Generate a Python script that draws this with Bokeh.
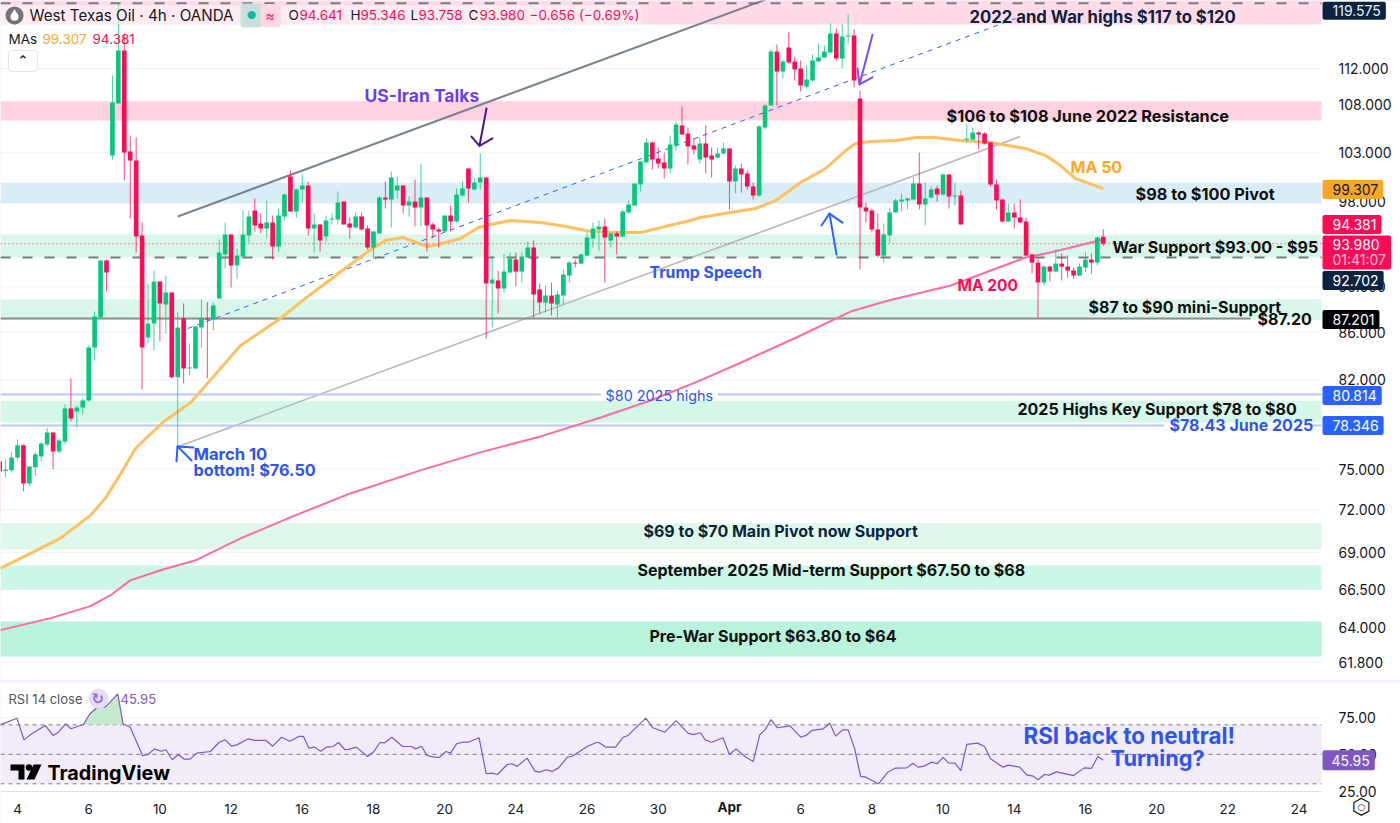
from bokeh.embed import file_html
from bokeh.resources import INLINE
from bokeh.plotting import figure
from bokeh.layouts import column
from bokeh.models import (Label, Range1d, FixedTicker, NumeralTickFormatter, BoxAnnotation)

# ---------- candles (4h bars, first bar index = -3) ----------
open_ = [75.58,74.86,74.90,75.88,76.80,73.93,75.13,75.95,76.87,77.80,
 76.33,77.10,79.69,79.45,79.77,80.33,84.70,87.29,92.41,102.65,
 108.15,114.04,103.07,102.14,94.75,85.55,86.77,90.49,88.43,89.50,
 82.21,87.20,82.94,82.94,86.42,87.20,87.12,88.97,92.97,94.85,
 91.95,92.78,94.75,97.15,95.90,95.42,96.00,93.72,96.57,100.52,
 97.05,99.22,99.62,95.42,95.81,94.66,96.29,96.29,98.03,95.90,
 95.52,96.57,95.42,93.62,94.95,98.42,98.23,99.12,99.62,97.64,
 98.03,97.44,98.42,95.81,95.33,95.14,96.67,96.10,98.62,101.33,
 99.22,99.92,100.42,90.31,90.58,89.86,91.31,92.50,91.40,92.69,
 93.62,89.77,88.61,89.23,88.43,89.23,91.03,92.22,92.13,92.87,
 94.47,95.33,95.62,94.28,94.95,94.66,96.96,97.64,99.72,101.94,
 104.00,102.35,101.94,101.33,103.69,105.79,104.95,103.69,102.24,103.90,
 102.65,102.45,102.86,103.38,100.02,101.33,100.83,99.52,98.62,105.58,
 107.93,113.93,111.67,114.38,112.79,112.00,110.00,110.66,112.79,113.24,
 113.81,116.00,113.12,115.65,115.77,108.69,97.44,97.15,95.33,92.87,
 94.75,96.96,98.03,98.13,98.23,99.82,97.74,98.42,99.32,98.72,
 100.72,98.52,98.62,104.31,104.31,105.05,104.95,104.00,99.72,98.23,
 96.10,96.96,96.48,96.10,92.97,92.22,90.40,91.85,91.40,92.13,
 91.85,91.49,91.03,91.76,92.50,92.22,94.641]
high = [75.58,75.73,76.26,77.26,76.87,75.20,76.26,77.03,78.12,77.80,
 77.34,80.01,82.12,79.93,80.49,84.87,87.81,92.50,92.50,111.22,
 119.53,116.00,104.73,104.52,96.00,90.31,91.49,90.49,91.03,89.50,
 87.73,88.52,85.05,86.51,88.88,88.61,88.61,94.37,96.00,94.85,
 93.53,97.15,97.15,98.33,96.86,98.13,96.67,97.35,98.82,101.13,
 99.32,100.72,100.02,96.86,95.81,96.67,96.86,99.02,98.03,96.48,
 96.96,96.96,95.71,95.14,98.62,100.02,101.03,100.52,99.62,98.52,
 100.22,101.84,98.42,96.00,95.52,96.67,97.64,99.32,100.02,101.33,
 100.42,102.86,100.42,92.87,91.49,93.06,93.15,93.15,93.15,94.19,
 94.28,90.31,90.13,90.40,89.68,91.58,92.41,92.50,93.06,95.04,
 96.00,96.19,96.38,95.04,95.14,97.25,98.13,99.82,102.04,104.42,
 104.11,103.48,102.96,104.73,106.21,107.82,105.58,104.42,104.52,105.79,
 103.48,103.48,104.00,103.38,101.63,101.84,101.13,99.92,105.79,108.04,
 114.15,114.73,113.01,116.12,113.35,112.90,112.34,113.58,114.85,114.62,
 117.17,116.58,117.05,118.23,116.47,109.56,97.93,97.35,96.86,95.90,
 97.35,98.33,98.82,98.42,100.42,102.96,99.92,99.52,99.62,100.83,
 100.72,99.92,99.12,106.00,105.58,105.16,105.05,104.11,100.22,98.23,
 97.84,97.84,98.23,96.48,93.06,92.59,91.95,91.95,93.43,93.06,
 92.87,91.76,92.13,93.15,93.06,94.66,95.346]
low = [71.74,74.38,74.75,75.65,73.34,73.71,74.45,75.58,76.72,74.98,
 76.18,76.87,78.66,78.19,79.21,80.25,83.61,87.29,89.59,102.24,
 108.15,100.12,96.38,93.15,81.22,85.05,84.45,85.21,85.90,82.12,
 76.72,81.71,82.37,82.90,84.70,82.12,86.16,88.97,91.67,89.95,
 90.76,92.78,94.09,95.14,94.95,94.47,92.50,93.25,96.19,97.05,
 96.48,97.93,94.75,93.15,93.25,94.19,95.81,95.81,95.81,94.47,
 95.42,95.23,93.43,92.59,94.95,97.35,95.52,98.33,96.86,96.57,
 95.62,95.62,93.25,94.47,93.62,95.04,95.14,96.00,98.52,97.93,
 99.12,99.22,85.47,86.42,87.64,89.50,91.31,90.04,90.40,92.69,
 87.29,87.64,87.73,87.47,87.29,88.43,90.40,91.76,92.04,92.87,
 93.62,93.34,90.40,93.62,92.97,94.57,96.86,97.64,99.02,101.94,
 101.23,101.33,100.32,100.83,103.17,104.84,101.74,102.76,101.84,100.83,
 100.42,102.35,102.76,97.25,98.82,98.92,99.22,98.23,98.52,105.37,
 107.93,107.93,110.88,112.57,110.66,109.45,109.78,110.55,112.79,113.24,
 113.81,112.90,112.00,114.85,109.89,91.58,96.00,95.04,92.69,92.22,
 94.09,96.96,97.05,97.25,98.23,97.25,95.71,98.33,98.03,98.62,
 97.35,97.64,95.81,104.00,104.21,103.27,103.79,99.52,97.25,96.00,
 96.00,95.42,96.00,92.87,91.22,87.20,90.13,90.49,91.31,90.58,
 90.85,90.76,91.03,91.40,91.22,91.95,93.758]
close = [74.83,74.94,75.88,76.80,73.93,75.20,76.11,76.95,77.80,76.33,
 77.18,79.69,78.90,79.77,80.33,84.70,87.38,92.41,91.31,108.25,
 114.04,102.96,102.14,94.66,84.70,86.77,90.49,88.52,89.50,82.21,
 86.42,82.94,83.03,86.51,87.20,87.12,88.34,93.15,94.85,91.95,
 92.87,94.85,96.57,95.71,95.42,96.00,93.72,96.67,98.72,97.05,
 99.22,99.62,95.42,95.81,94.28,96.19,96.38,97.93,95.81,95.52,
 96.57,95.33,93.62,95.14,98.42,98.23,100.42,99.62,97.64,98.03,
 97.44,98.42,95.71,95.33,95.14,96.67,96.10,98.72,99.32,99.32,
 99.92,100.42,90.31,90.67,89.86,91.40,92.59,91.40,92.78,93.62,
 89.32,88.61,89.23,88.52,89.32,91.13,92.22,92.13,92.97,94.57,
 95.42,95.62,94.57,94.95,94.66,97.05,97.74,99.82,102.04,104.00,
 102.24,101.84,101.33,103.79,105.90,104.84,103.58,103.27,103.90,102.45,
 102.24,102.86,103.38,100.02,101.33,100.72,99.52,98.62,105.69,107.93,
 113.93,111.67,112.79,112.68,111.89,110.11,110.77,112.90,113.24,113.93,
 116.00,113.12,115.65,115.77,110.66,97.44,97.05,95.33,92.87,94.85,
 96.96,98.13,98.23,98.33,99.82,97.74,98.33,99.22,98.72,100.72,
 98.52,98.62,95.81,104.42,105.05,104.84,103.90,99.72,98.13,96.10,
 96.96,96.48,96.00,92.87,92.22,90.40,91.85,91.40,92.13,91.85,
 91.49,91.03,91.85,92.50,92.22,94.57,93.98]
first_bar = -3

# ---------- moving averages, read at selected bars ----------
ma50_bar = [-2.9,2.2,7.2,12.3,14.8,16.9,19.9,21.6,24.9,29.2,37.6,44.3,48.5,56.1,59.8,62.0,64.9,67.6,69.3,72.1,
 74.7,77.7,79.7,83.1,88.2,92.4,96.6,101.6,105,109.2,113.4,115.1,120.2,124.4,127.8,132,136.2,139.6,141.2,143.8,
 148,151.4,154.7,158.9,164,169.9,173.3,175.8,178.3,183]
ma50_val = [67.90,68.93,69.97,71.60,72.83,74.30,76.56,77.33,78.74,80.17,84.87,87.20,88.97,92.04,93.53,94.28,94.57,94.00,93.72,94.09,
 94.47,95.52,95.81,96.19,96.00,95.62,95.14,95.04,95.04,95.62,96.19,96.48,96.96,97.35,98.13,99.92,101.33,103.17,103.90,104.11,
 104.21,104.52,104.52,104.21,104.00,103.38,102.65,101.63,100.32,99.307]
ma200_bar = [-2.9,5.6,12.3,15.7,19.0,24.1,30,37.6,46,56.1,67.9,78,88.2,98.3,106.7,115.1,123.5,132,140.4,146.8,157.3,169.9,174.1,183]
ma200_val = [63.83,64.60,65.38,66.10,67.09,67.77,68.45,69.97,71.46,73.19,74.90,76.26,77.49,78.97,80.33,81.96,83.78,85.73,87.81,88.79,90.13,92.69,93.15,94.381]

# ---------- RSI ----------
rsi_bar = [-2.9,-0.1,1.1,2.4,4.7,6.0,6.9,8.1,9.0,11.1,12.2,13.8,14.8,16.9,17.8,19.0,21.1,22.0,23.1,24.2,25.0,26.1,27.1,28.1,29.1,30.2,
 32.5,34.0,35.0,36.1,37.0,38.9,40.0,41.9,43.0,44.5,45.9,47.4,48.2,49.1,50.0,51.1,52.1,53.2,54.1,55.2,55.8,57.1,59.0,60.0,61.1,61.9,
 63.1,64.9,66.4,67.1,68.1,69.0,70.3,71.1,72.2,73.0,74.0,75.0,76.0,77.8,79.0,79.9,80.9,82.5,83.3,84.2,85.9,87.2,88.0,89.1,90.1,91.2,
 92.7,93.4,94.6,96.1,97.6,98.0,99.1,100.8,102.1,102.9,105.9,107.1,109.1,111.0,113.0,113.9,115.1,115.9,117.0,118.9,120.0,121.1,122.6,
 124.0,125.1,126.0,127.0,128.1,130.2,132.0,132.9,133.9,135.8,136.9,137.9,139.1,140.0,141.1,142.1,143.0,145.1,146.7,147.9,149.9,150.9,
 151.8,152.8,154.1,155.0,156.0,156.9,158.0,159.0,160.0,161.8,163.0,164.0,166.1,167.0,168.9,170.1,171.2,172.0,173.1,173.9,175.1,178.0,
 179.8,181.0,182.1,183.0]
rsi_val = [70.0,74.5,59.8,63.9,69.5,62.8,65.0,70.7,67.3,70.2,77.5,83.1,82.0,91.0,70.7,68.4,49.0,49.9,53.7,52.1,53.1,46.3,49.9,46.7,46.7,50.8,
 51.9,58.2,59.8,55.5,56.4,60.5,59.4,59.4,55.5,61.6,58.9,62.1,62.1,54.2,54.9,52.1,54.9,55.3,58.0,53.1,53.3,54.9,48.5,51.5,58.0,57.8,
 61.6,55.3,55.3,53.7,55.5,49.2,48.1,47.9,51.9,50.8,57.1,58.2,58.2,61.2,36.8,37.2,36.3,42.9,43.6,41.8,47.4,38.6,37.9,39.5,38.4,40.8,
 48.1,48.5,51.5,55.5,58.0,58.0,54.9,54.9,61.6,62.8,74.5,68.0,65.0,72.9,64.4,63.4,64.6,59.8,58.2,61.2,49.9,53.7,48.5,
 45.1,63.2,66.6,73.6,68.0,69.3,61.6,62.8,66.2,67.3,71.1,62.3,66.6,66.6,53.7,35.0,34.5,30.0,37.9,40.6,40.8,44.0,
 41.3,42.0,44.7,43.6,47.9,44.2,44.0,39.0,56.7,57.6,55.3,47.0,41.3,42.7,41.3,36.1,35.2,32.7,36.3,35.9,38.1,35.6,
 40.8,40.4,48.5,45.95]
rsi_over_bar = [11.1,12.2,13.8,14.8,16.9,17.8]
rsi_over_val = [70.2,77.5,83.1,82.0,91.0,70.7]

# ---------- zones, levels, axis labels ----------
zone_low  = [117.04,106.32,97.85,92.70,87.10,78.57,69.20,66.47,62.17]
zone_high = [119.89,108.40,99.90,94.85,88.87,80.30,71.03,68.10,64.39]
zone_fill = ['#ffdbe8','#ffd1e1','#d8edf5','#d8f6ea','#d8f6ea','#d4f7e8','#dff8ec','#ccf6e6','#b9f3dc']
price_ticks = [61.8,64,66.5,69,72,75,82,86,90,98,103,108,112]
grid_levels = [61.8,64,66.5,69,72,75,78,82,86,90,98,103,108,112]
rsi_ticks = [25,50,75]
date_bars = [0,12,24,36,48,60,72,84,96,108,132,144,156,168,180,192,204,216]
date_text = ['4','6','10','12','16','18','20','24','26','30','6','8','10','14','16','20','22','24']
level_top, level_ma_low, level_last, level_support, level_80, level_78 = 119.575, 92.702, 93.98, 87.201, 80.814, 78.346

INK = '#131722'; NAVY = '#0c2340'; BLUE = '#2f55ee'; PINK = '#ff0a54'; ORANGE = '#ffa726'
GREEN = '#06c77c'; RED = '#ff0a54'; FONT = 'Inter'
W = 1400
x_lo, x_edge, x_hi = -2.865, 219.8, 233.1
y_lo, y_hi = 60.69, 119.89

p = figure(width=W, height=680, output_backend='svg', toolbar_location=None, y_axis_type='log',
           x_range=Range1d(x_lo, x_hi), y_range=Range1d(y_lo, y_hi), y_axis_location='right',
           min_border_left=0, min_border_top=0, min_border_bottom=0, min_border_right=0)
p.outline_line_color = None
p.background_fill_color = 'white'
p.xaxis.visible = False
p.xgrid.visible = False
p.ygrid.visible = False
ax = p.yaxis[0]
ax.fixed_location = x_edge
ax.ticker = FixedTicker(ticks=price_ticks)
ax.formatter = NumeralTickFormatter(format='0.000')
ax.axis_line_color = None; ax.major_tick_line_color = None; ax.minor_tick_line_color = None
ax.major_label_text_font = FONT; ax.major_label_text_font_size = '14px'; ax.major_label_text_color = INK
ax.major_label_standoff = 11

p.segment(x_lo, grid_levels, x_edge, grid_levels, line_color='#f0f3fa', line_width=1)
p.quad(left=x_lo, right=x_edge, bottom=zone_low, top=zone_high, fill_color=zone_fill, line_color=None)

def hline(price, color, width, dash='solid', x0=x_lo, x1=x_edge):
    p.line([x0, x1], [price, price], line_color=color, line_width=width, line_dash=dash)

# channel lines
p.line([27.0, 126.1], [96.57, 120.0], line_color='#76848f', line_width=2)
p.line([27.1, 169.0], [76.72, 104.63], line_color='#b4b8c2', line_width=1.6)
p.line([28.7, 168.2], [86.33, 117.75], line_color='#2962ff', line_width=1, line_dash=[5, 5])

hline(level_top, '#787b86', 2, [10, 12])
hline(level_ma_low, '#787b86', 2, [10, 12])
hline(level_last, PINK, 1, [1, 3])
hline(level_support, '#8e8e8e', 2, 'solid', x_lo, 207.8)
hline(level_80, '#b8c8f8', 2, 'solid', x_lo, 98.3)
hline(level_80, '#b8c8f8', 2, 'solid', 118.0, x_edge)
hline(level_78, '#b8c8f8', 2, 'solid', x_lo, 193.3)
hline(level_78, '#b8c8f8', 2, 'solid', 218.0, x_edge)

p.line(ma200_bar, ma200_val, line_color='#ff6b9a', line_width=2)
p.line(ma50_bar, ma50_val, line_color='#ffc061', line_width=3)

bars = [first_bar + k for k in range(len(open_))]
col = [GREEN if c >= o else RED for o, c in zip(open_, close)]
p.segment(bars, high, bars, low, line_color=col, line_width=1, line_alpha=0.75)
p.vbar(x=bars, width=0.78, top=[max(o, c) for o, c in zip(open_, close)],
       bottom=[min(o, c) for o, c in zip(open_, close)], fill_color=col, line_color=None)

# hand-drawn arrows
def arrow(xs, ys, color):
    p.line(xs, ys, line_color=color, line_width=2, line_cap='round', line_join='round')
i2 = lambda px: (px - 17) / 5.933
arrow([i2(486), i2(479)], [107.60, 103.66], '#4a148c')
arrow([i2(471), i2(479), i2(492)], [104.62, 103.66, 104.42], '#4a148c')
arrow([i2(872), i2(859)], [115.86, 110.22], '#7c4dff')
arrow([i2(857), i2(859), i2(872)], [112.00, 110.22, 111.01], '#7c4dff')
arrow([i2(836), i2(829)], [92.96, 96.86], '#2962ff')
arrow([i2(821), i2(829), i2(842)], [95.71, 96.86, 95.99], '#2962ff')
arrow([i2(191), i2(177)], [75.65, 76.72], '#2962ff')
arrow([i2(176), i2(177), i2(193)], [75.58, 76.72, 76.64], '#2962ff')

p.add_layout(BoxAnnotation(left=0, right=640, left_units='screen', right_units='screen',
                           top=119.3, bottom=117.05, fill_color='white', fill_alpha=0.45, line_color=None))

def lab(fig, text, px, val, color=INK, size=15, bold=False, **kw):
    style = 'bold' if bold else 'normal'
    font = kw.pop('font', FONT)
    fig.add_layout(Label(x=px, y=val, x_units='screen', y_units='data', text=text, text_color=color,
                         text_font=font, text_font_size=f'{size}px', text_font_style=style,
                         text_baseline='middle', text_align='left', **kw))

# chart notes
S = 16
lab(p, '2022 and War highs $117 to $120', 969, 117.87, NAVY, 16.7, True)
lab(p, '$106 to $108 June 2022 Resistance', 946, 106.85, '#111', 16.3, True)
lab(p, '$98 to $100 Pivot', 1135, 98.82, '#111', 16.3, True)
lab(p, 'War Support $93.00 - $95', 1112, 93.71, '#111', S, True)
lab(p, '$87 to $90 mini-Support', 1088, 88.25, '#111', S, True)
lab(p, '$87.20', 1257, 87.12, '#111', S, True)
lab(p, '2025 Highs Key Support $78 to $80', 1017, 79.61, '#111', S, True)
lab(p, '$78.43 June 2025', 1169, 78.35, BLUE, S, True)
lab(p, '$80 2025 highs', 605, 80.73, BLUE, 14.4, False)
lab(p, '$69 to $70 Main Pivot now Support', 643, 70.47, NAVY, S, True)
lab(p, 'September 2025 Mid-term Support $67.50 to $68', 637, 67.77, '#111', S, True)
lab(p, 'Pre-War Support $63.80 to $64', 649, 63.45, '#111', S, True)
lab(p, 'US-Iran Talks', 364, 109.02, '#6b3df0', 17.5, True)
lab(p, 'Trump Speech', 649, 91.31, BLUE, 15.8, True)
lab(p, 'March 10', 193, 76.11, BLUE, 16.6, True)
lab(p, 'bottom! $76.50', 193, 74.90, BLUE, 16.3, True)
lab(p, 'MA 50', 1070, 101.53, ORANGE, 16, True)
lab(p, 'MA 200', 957, 90.13, PINK, 15.5, True)

# header
p.scatter([-0.5], [118.11], size=18, marker='circle', fill_color='black', line_color=None)
p.scatter([-0.5], [117.95], size=8, marker='circle', fill_color='white', line_color=None)
p.scatter([-0.5], [118.45], size=6, marker='triangle', fill_color='white', line_color=None)
lab(p, 'West Texas Oil · 4h · OANDA', 29, 118.11, INK, 15.2)
# Label padding order here is (left, right, top, bottom)
lab(p, '\u25cf', 240, 118.11, '#14b8a0', 11, background_fill_color='#c4e2da', padding=(6, 6, 5, 5), border_radius=4)
lab(p, '\u2248', 260, 118.11, PINK, 14, background_fill_color='#ffd6e4', padding=(5, 6, 3, 3), border_radius=4)
for txt, px, c in [('O', 288, INK), ('94.641', 299, PINK), ('H', 350, INK), ('95.346', 360, PINK),
                   ('L', 410, INK), ('93.758', 418, PINK), ('C', 468, INK), ('93.980', 479, PINK),
                   ('\u22120.656 (\u22120.69%)', 529, PINK)]:
    lab(p, txt, px, 118.11, c, 13.5)
lab(p, 'MAs', 8, 115.31, INK, 13.5)
lab(p, '99.307', 42, 115.31, ORANGE, 13.5)
lab(p, '94.381', 92, 115.31, PINK, 13.5)
lab(p, '\u2303', 8, 112.85, INK, 13, True, background_fill_color='white', padding=(9, 9, 3, 3),
    border_line_color='#e0e3eb', border_radius=3, font='DejaVu Sans')

# price tags
def tag(fig, text, val, bg, fg='white', pad=(10, 5, 4, 4)):
    lab(fig, text, 1322, val, fg, 14, background_fill_color=bg, padding=pad, border_radius=2)

tag(p, '119.575', 118.66, NAVY, '#e8edf5', (10, 5, 3, 4))
tag(p, '99.307', 99.22, '#f9a72b', INK)
tag(p, '94.381', 95.81, PINK)
tag(p, '92.702', 90.58, NAVY)
tag(p, '01:41:07', 93.15, PINK, '#ffc2d4', (10, 5, 15, 2))
lab(p, '93.980', 1332, 93.90, 'white', 14)
tag(p, '87.201', 87.12, '#000000')
tag(p, '80.814', 80.73, '#2962ff')
tag(p, '78.346', 78.35, '#2962ff')

# ---------- RSI pane ----------
r = figure(width=W, height=141, output_backend='svg', toolbar_location=None,
           x_range=p.x_range, y_range=Range1d(3.08, 98.7), y_axis_location='right',
           min_border_left=0, min_border_top=0, min_border_bottom=0, min_border_right=0)
r.outline_line_color = None
r.xgrid.visible = False
r.ygrid.visible = False
ay = r.yaxis[0]
ay.fixed_location = x_edge
ay.ticker = FixedTicker(ticks=rsi_ticks)
ay.formatter = NumeralTickFormatter(format='0.00')
ay.axis_line_color = None; ay.major_tick_line_color = None; ay.minor_tick_line_color = None
ay.major_label_text_font = FONT; ay.major_label_text_font_size = '14px'; ay.major_label_text_color = INK
ay.major_label_standoff = 11
ab = r.xaxis[0]
ab.fixed_location = 24.8
ab.bounds = (x_lo, x_edge)
ab.ticker = FixedTicker(ticks=date_bars)
ab.major_label_overrides = dict(zip(date_bars, date_text))
ab.axis_line_color = '#e0e3eb'; ab.major_tick_line_color = None; ab.minor_tick_line_color = None
ab.major_label_text_font = FONT; ab.major_label_text_font_size = '13.5px'; ab.major_label_text_color = INK
ab.major_label_standoff = 7

r.segment(x_lo, 75, x_edge, 75, line_color='#f0f3fa', line_width=1)
r.quad(left=x_lo, right=x_edge, bottom=30, top=70, fill_color='#f2ecf9', line_color=None)
for lv in (70, 50, 30):
    r.line([x_lo, x_edge], [lv, lv], line_color='#787b86', line_width=1, line_dash=[4, 4])
r.varea(x=rsi_over_bar, y1=[70] * len(rsi_over_bar), y2=rsi_over_val, fill_color='#b9e6c4', fill_alpha=0.85)
r.line(rsi_bar, rsi_val, line_color='#7e57c2', line_width=1.2)

lab(r, 'RSI 14 close', 8, 87.8, '#50535e', 13)
r.scatter([i2(98)], [87.8], size=20, marker='circle', fill_color='#e6dcf7', line_color=None)
lab(r, '\u21bb', 91, 87.8, '#8e6fd0', 15, True, font='DejaVu Sans')
lab(r, '45.95', 120, 87.8, '#7e57c2', 13)
lab(r, 'RSI back to neutral!', 1023, 62.7, BLUE, 22.4, True)
lab(r, 'Turning?', 1110, 47.8, BLUE, 21.7, True)

# TradingView logo
def vy(y):
    return 70 - (y - 724.3) / 1.475
r.patches([[i2(10), i2(24), i2(24), i2(18), i2(18), i2(10)],
           [i2(33), i2(41), i2(34), i2(26)]],
          [[vy(764), vy(764), vy(779), vy(779), vy(770), vy(770)],
           [vy(764), vy(764), vy(779), vy(779)]], fill_color='#000000', line_color=None)
r.scatter([i2(28.5)], [vy(767)], size=6.5, marker='circle', fill_color='#000000', line_color=None)
lab(r, 'TradingView', 47, 37.0, '#000000', 19.8, True)
tag(r, '45.95', 45.95, '#7e57c2', 'white', (9, 5, 5, 4))
r.add_layout(Label(x=120, y=14.6, text='Apr', text_font=FONT, text_font_size='13.5px', text_font_style='bold',
                   text_color=INK, text_align='center', text_baseline='middle'))
lab(r, '\u2b21', 1351, 14.6, INK, 22, font='DejaVu Sans')
lab(r, '\u25cb', 1357, 14.6, INK, 9, font='DejaVu Sans')

page = column(p, r, spacing=2, margin=0, styles={'background-color': '#f0f3fa'})
open('out.html', 'w').write(file_html(page, INLINE))
